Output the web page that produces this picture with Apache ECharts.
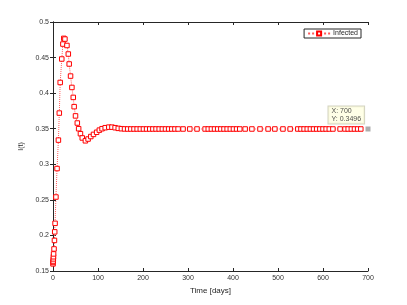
<!DOCTYPE html>
<html><head><meta charset="utf-8">
<script src="https://cdn.jsdelivr.net/npm/echarts@6/dist/echarts.min.js"></script>
<style>html,body{margin:0;padding:0;background:#fff}#c{width:407px;height:305px}</style>
</head><body><div id="c"></div>
<script>
var seriesName = 'Infected';
var timeDays = [0,0.2,0.4,0.7,1.0,1.3,2.3,3.2,3.8,4.6,6.5,9,12,14,16,19.5,22,24,26.5,31,34,36,39,42,45,47,50,54,57,61,65,72,78,84,90,97,103,109,116,124,131,138,
145,152,159,166,173,180,187,194,201,208,215,222,229,236,243,250,257,264,271,278,289,304,320,338,345,352,359,366,373,380,387,394,401,408,415,427,442,460,478,493,511,527,544,551,558,565,572,579,586,593,600,607,614,622,638,649,656,663,670,677,684,691,700];
var infected = [0.160,0.162,0.164,0.167,0.170,0.174,0.181,0.193,0.205,0.217,0.254,0.294,0.334,0.372,0.415,0.448,0.469,0.477,0.476,0.467,0.455,0.441,0.424,0.408,0.394,0.381,0.368,0.358,0.350,0.343,0.337,0.333,0.3355,0.339,0.342,0.345,0.348,0.350,0.3514,0.3522,0.3522,0.3514,
0.3505,0.3500,0.3497,0.3496,0.3496,0.3496,0.3496,0.3496,0.3496,0.3496,0.3496,0.3496,0.3496,0.3496,0.3496,0.3496,0.3496,0.3496,0.3496,0.3496,0.3496,0.3496,0.3496,0.3496,0.3496,0.3496,0.3496,0.3496,0.3496,0.3496,0.3496,0.3496,0.3496,0.3496,0.3496,0.3496,0.3496,0.3496,0.3496,0.3496,0.3496,0.3496,0.3496,0.3496,0.3496,0.3496,0.3496,0.3496,0.3496,0.3496,0.3496,0.3496,0.3496,0.3496,0.3496,0.3496,0.3496,0.3496,0.3496,0.3496,0.3496];
var tipPoint = [700, 0.3496];
var xLabel = 'Time [days]';
var yLabel = 'I(t)';

var data = timeDays.map(function(t,i){return [t, infected[i]];});
var font = 'Liberation Sans';
var axisCol = '#262626';
var chart = echarts.init(document.getElementById('c'), null, {renderer:'canvas'});
var xBase = {type:'value', min:0, max:700, interval:100,
  axisLine:{show:true, lineStyle:{color:axisCol, width:1}},
  axisTick:{show:true, inside:true, length:3, lineStyle:{color:axisCol}},
  splitLine:{show:false}};
var yBase = {type:'value', min:0.15, max:0.5, interval:0.05,
  axisLine:{show:true, lineStyle:{color:axisCol, width:1}},
  axisTick:{show:true, inside:true, length:3, lineStyle:{color:axisCol}},
  splitLine:{show:false}};
chart.setOption({
  animation:false,
  grid:{left:53, right:39, top:22, bottom:34, containLabel:false},
  xAxis:[
    Object.assign({}, xBase, {position:'bottom', name:xLabel, nameLocation:'middle', nameGap:10,
      nameTextStyle:{fontFamily:font, fontSize:8, color:'#262626', verticalAlign:'top'},
      axisLabel:{fontFamily:font, fontSize:7, color:'#333', margin:4}}),
    Object.assign({}, xBase, {position:'top', axisLabel:{show:false}})
  ],
  yAxis:[
    Object.assign({}, yBase, {position:'left', name:yLabel, nameLocation:'middle', nameGap:20,
      nameTextStyle:{fontFamily:font, fontSize:7, color:'#262626'},
      axisLabel:{fontFamily:font, fontSize:7, color:'#333', margin:4,
        formatter:function(v){return String(+v.toFixed(2));}}}),
    Object.assign({}, yBase, {position:'right', axisLabel:{show:false}})
  ],
  legend:{data:[seriesName], right:46, top:29, orient:'horizontal',
    backgroundColor:'#fff', borderColor:axisCol, borderWidth:1, padding:[1,3,1,3],
    itemWidth:22, itemHeight:5, itemGap:2,
    textStyle:{fontFamily:font, fontSize:7, color:'#262626', padding:[0,0,0,-2]}},
  series:[
    {name:seriesName, type:'line', xAxisIndex:0, yAxisIndex:0, data:data,
     symbol:'rect', symbolSize:4.5, showAllSymbol:true,
     lineStyle:{type:'dotted', width:1, color:'#ff5a5a'},
     itemStyle:{color:'#fff', borderColor:'#ff0000', borderWidth:1},
     emphasis:{disabled:true}, z:3},
    {name:'tip', type:'scatter', xAxisIndex:0, yAxisIndex:0, data:[tipPoint], clip:false,
     symbol:'rect', symbolSize:5, itemStyle:{color:'#999'}, z:5,
     label:{show:true, position:[-37,-20], align:'left', verticalAlign:'top',
       formatter:function(p){return 'X: '+p.value[0]+'\nY: '+p.value[1];},
       fontFamily:font, fontSize:7, color:'#222', lineHeight:8,
       backgroundColor:'#ffffe1', borderColor:'#c8c8b0', borderWidth:1, padding:[1,3,0,3]}}
  ]
});
</script></body></html>
